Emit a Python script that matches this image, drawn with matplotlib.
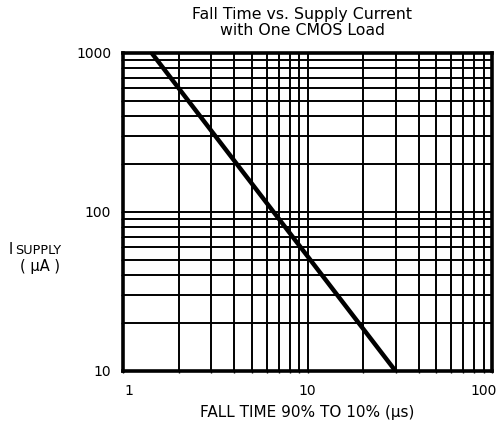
import matplotlib.pyplot as plt
import matplotlib.ticker as ticker
import matplotlib.transforms as mtransforms

# Fall time vs supply current
fall_time_us = [1.43, 30.0]
supply_ua = [1000, 10]

x_ticks = [1, 10, 100]
y_ticks = [10, 100, 1000]

plt.rcParams["font.family"] = ["DejaVu Sans"]

fig = plt.figure(figsize=(5.0, 4.29), dpi=100)
ax = fig.add_axes([0.246, 0.1352, 0.738, 0.7413])

ax.set_xscale("log")
ax.set_yscale("log")
ax.set_xlim(1, 100)
ax.set_ylim(10, 1000)

# dense black log grid, like the printed graph paper
ax.xaxis.set_major_locator(ticker.FixedLocator(x_ticks))
ax.yaxis.set_major_locator(ticker.FixedLocator(y_ticks))
ax.xaxis.set_minor_locator(ticker.LogLocator(base=10, subs=range(2, 10)))
ax.yaxis.set_minor_locator(ticker.LogLocator(base=10, subs=range(2, 10)))
ax.xaxis.set_major_formatter(ticker.FixedFormatter([str(v) for v in x_ticks]))
ax.yaxis.set_major_formatter(ticker.FixedFormatter([str(v) for v in y_ticks]))
ax.xaxis.set_minor_formatter(ticker.NullFormatter())
ax.yaxis.set_minor_formatter(ticker.NullFormatter())
ax.grid(True, which="both", color="black", linewidth=1.4)

ax.plot(fall_time_us, supply_ua, color="black", linewidth=3.2, solid_capstyle="butt")

for s in ax.spines.values():
    s.set_linewidth(2.6)

ax.tick_params(which="both", direction="out", length=1.5, width=1, color="black")
ax.tick_params(axis="x", which="major", pad=8, labelsize=10)
ax.tick_params(axis="y", which="major", pad=7, labelsize=10)

# nudge the end labels inward a bit, as printed
ticks = ax.xaxis.get_major_ticks()
for tk, dx in zip(ticks, [4, 0, -6]):
    off = mtransforms.ScaledTranslation(dx / 72, 0, fig.dpi_scale_trans)
    tk.label1.set_transform(tk.label1.get_transform() + off)

ax.set_title("Fall Time vs. Supply Current\nwith One CMOS Load",
             fontsize=11.3, linespacing=1.05, pad=13, x=0.485)
ax.set_xlabel("FALL TIME 90% TO 10% (µs)", fontsize=11, labelpad=5)

# y label: I with offset SUPPLY, then (µA) underneath
fig.text(9 / 500, 1 - 249 / 429, "I", fontsize=10.5, ha="left", va="center")
fig.text(15 / 500, 1 - 250 / 429, "SUPPLY", fontsize=9.2, ha="left", va="center")
fig.text(40 / 500, 1 - 266 / 429, "( µA )", fontsize=10.5, ha="center", va="center")

fig.savefig("out.png", dpi=100)
